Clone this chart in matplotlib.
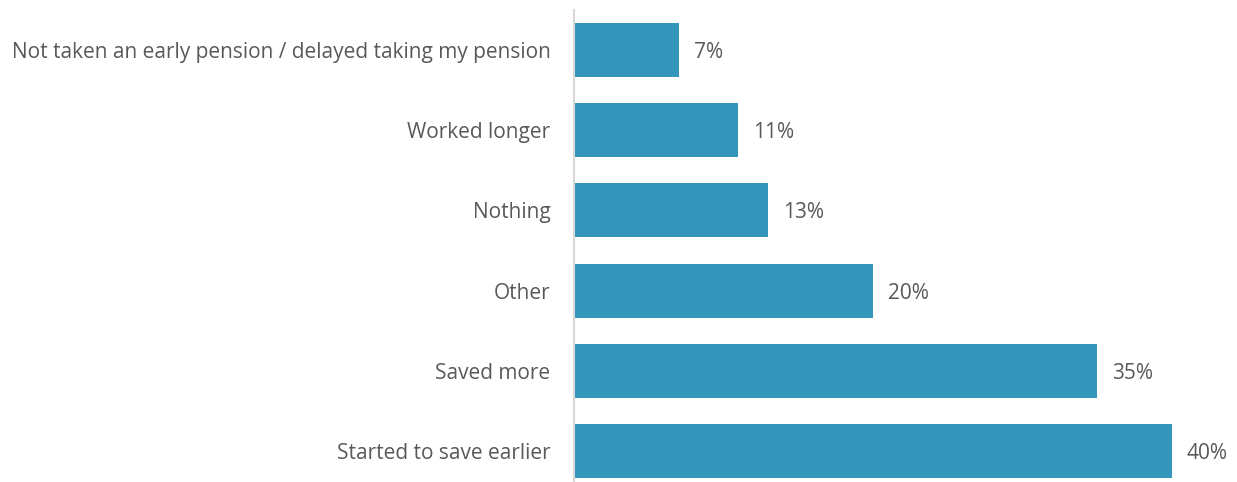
import matplotlib.pyplot as plt

# Data (bottom to top)
categories = ['Started to save earlier', 'Saved more', 'Other', 'Nothing',
              'Worked longer', 'Not taken an early pension / delayed taking my pension']
values = [40, 35, 20, 13, 11, 7]

bar_color = '#3596BC'
text_color = '#595959'

plt.rcParams['font.family'] = ['Open Sans', 'DejaVu Sans']

fig = plt.figure(figsize=(12.37, 4.82), dpi=100)
ax = fig.add_axes([574 / 1237, 0, 1 - 574 / 1237, 1 - 10 / 482])

pos = list(range(len(categories)))
ax.barh(pos, values, height=0.675, color=bar_color)

for p, v in zip(pos, values):
    ax.text(v + 1.0, p, f'{v}%', va='center_baseline', ha='left', fontsize=15, color=text_color)

ax.set_yticks(pos)
ax.set_yticklabels(categories, fontsize=15, color=text_color)
ax.tick_params(axis='y', length=0, pad=17)
ax.set_xticks([])
ax.set_xlim(0, (1237 - 574) / 14.95)
ax.set_ylim(-0.3875, 5.5)

for side in ['top', 'right', 'bottom']:
    ax.spines[side].set_visible(False)
ax.spines['left'].set_color('#D9D9D9')
ax.spines['left'].set_linewidth(1.5)

fig.savefig('out.png', dpi=100)
